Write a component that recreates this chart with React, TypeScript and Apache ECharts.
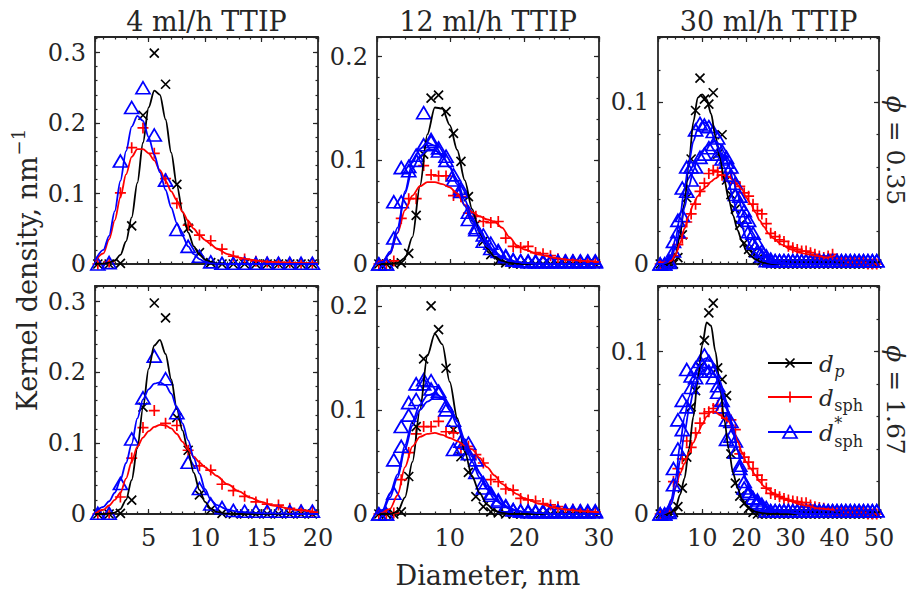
import React, { useEffect, useRef } from "react";
import * as echarts from "echarts";

// ---------- bin centres (histogram markers) ----------
const BINS_20 = [0.5, 1.5, 2.5, 3.5, 4.5, 5.5, 6.5, 7.5, 8.5, 9.5, 10.5, 11.5, 12.5, 13.5, 14.5, 15.5, 16.5, 17.5, 18.5, 19.5];
const BINS_30 = [0.5, 1.5, 2.5, 3.5, 4.5, 5.5, 6.5, 7.5, 8.5, 9.5, 10.5, 11.5, 12.5, 13.5, 14.5, 15.5, 16.5, 17.5, 18.5, 19.5,
  20.5, 21.5, 22.5, 23.5, 24.5, 25.5, 26.5, 27.5, 28.5, 29.5];
const BINS_50 = [0.5, 1.5, 2.5, 3.5, 4.5, 5.5, 6.5, 7.5, 8.5, 9.5, 10.5, 11.5, 12.5, 13.5, 14.5, 15.5, 16.5, 17.5, 18.5, 19.5,
  20.5, 21.5, 22.5, 23.5, 24.5, 25.5, 26.5, 27.5, 28.5, 29.5, 30.5, 31.5, 32.5, 33.5, 34.5, 35.5, 36.5, 37.5, 38.5, 39.5,
  40.5, 41.5, 42.5, 43.5, 44.5, 45.5, 46.5, 47.5, 48.5, 49.5];

// ---------- x positions of the kernel-density curves ----------
const CURVE_X_20 = [0.25, 1, 1.5, 2, 2.5, 3, 3.5, 4, 4.5, 5, 5.5, 6, 6.5, 7, 7.5, 8, 8.5, 9, 9.5, 10, 10.5, 11, 12, 13, 14, 15, 16, 18, 20];
const CURVE_X_30 = [0.25, 1, 2, 3, 4, 5, 6, 7, 8, 9, 10, 11, 12, 13, 14, 15, 16, 17, 18, 19, 20, 22, 24, 26, 28, 30];
const CURVE_X_50 = [0, 1, 2, 3, 4, 5, 6, 7, 8, 9, 10, 11, 12, 13, 14, 15, 16, 17, 18, 19, 20, 21, 22, 23, 24, 25, 26, 28, 30, 32, 34, 36, 38, 40];

// ---------- texts ----------
const COLUMN_TITLES = ["4 ml/h TTIP", "12 ml/h TTIP", "30 ml/h TTIP"];
const ROW_PHI = ["0.35", "1.67"];
const X_LABEL = "Diameter, nm";
const Y_LABEL = "Kernel density, nm";
const Y_LABEL_SUP = "\u22121";

// ---------- panel 1 : 4 ml/h, phi 0.35 ----------
const P1_DP_PTS = [0, 0, 0.001, 0.054, 0.211, 0.299, 0.255, 0.113, 0.051, 0.016, 0.002, 0, 0, 0, 0, 0, 0, 0, 0, 0];
const P1_SPH_PTS = [0, 0.003, 0.101, 0.165, 0.193, 0.157, 0.121, 0.086, 0.055, 0.041, 0.033, 0.021, 0.011, 0.007, 0.004, 0.003, 0.002, 0.002, 0.001, 0.001];
const P1_STAR_PTS = [0, 0.002, 0.146, 0.222, 0.25, 0.183, 0.119, 0.049, 0.025, 0.011, 0.003, 0.001, 0.001, 0.001, 0.001, 0.001, 0.001, 0.001, 0.001, 0.001];
const P1_DP_CURVE = [0, 0.0005, 0.002, 0.005, 0.013, 0.032, 0.066, 0.115, 0.172, 0.222, 0.246, 0.24, 0.205, 0.158, 0.112, 0.074, 0.045, 0.025, 0.013, 0.006, 0.003, 0.001, 0, 0, 0, 0, 0, 0, 0];
const P1_SPH_CURVE = [0.004, 0.015, 0.035, 0.062, 0.095, 0.127, 0.152, 0.163, 0.163, 0.157, 0.147, 0.133, 0.118, 0.103, 0.09, 0.074, 0.061, 0.05, 0.041, 0.034, 0.028, 0.022, 0.014, 0.009, 0.006, 0.004, 0.003, 0.0015, 0.001];
const P1_STAR_CURVE = [0.005, 0.02, 0.04, 0.075, 0.118, 0.16, 0.195, 0.21, 0.203, 0.18, 0.155, 0.13, 0.105, 0.08, 0.058, 0.04, 0.025, 0.014, 0.007, 0.003, 0.001, 0.0005, 0, 0, 0, 0, 0, 0, 0];

// ---------- panel 2 : 12 ml/h, phi 0.35 ----------
const P2_DP_PTS = [0, 0, 0, 0.001, 0.0103, 0.047, 0.106, 0.16, 0.163, 0.147, 0.126, 0.099, 0.065, 0.038, 0.022, 0.009, 0.003, 0.001, 0, 0,
  0, 0, 0, 0, 0, 0, 0, 0, 0, 0];
const P2_SPH_PTS = [0, 0, 0.003, 0.044, 0.063, 0.063, 0.095, 0.086, 0.085, 0.085, 0.066, 0.065, 0.049, 0.046, 0.041, 0.04, 0.041, 0.025, 0.017, 0.016,
  0.017, 0.011, 0.01, 0.008, 0.005, 0.004, 0.004, 0.003, 0.002, 0.002];
const P2_STAR_PTS_A = [0, 0, 0.06, 0.093, 0.094, 0.1, 0.146, 0.12, 0.109, 0.104, 0.081, 0.073, 0.043, 0.033, 0.022, 0.015, 0.013, 0.008, 0.004, 0.003,
  0.003, 0.003, 0.003, 0.003, 0.003, 0.003, 0.003, 0.003, 0.003, 0.003];
const P2_STAR_PTS_B = [0, 0, 0.025, 0.06, 0.09, 0.105, 0.115, 0.118, 0.112, 0.1, 0.086, 0.07, 0.05, 0.035, 0.028, 0.02, 0.012, 0.007, 0.004, 0.003,
  0.002, 0.002, 0.002, 0.002, 0.002, 0.002, 0.002, 0.002, 0.002, 0.002];
const P2_DP_CURVE = [0, 0, 0, 0.001, 0.006, 0.026, 0.075, 0.125, 0.151, 0.15, 0.134, 0.11, 0.081, 0.053, 0.03, 0.015, 0.007, 0.003, 0.001, 0.0005, 0, 0, 0, 0, 0, 0];
const P2_SPH_CURVE = [0.001, 0.003, 0.01, 0.03, 0.052, 0.066, 0.075, 0.079, 0.079, 0.077, 0.074, 0.068, 0.057, 0.05, 0.046, 0.043, 0.041, 0.035, 0.026, 0.018, 0.014, 0.009, 0.006, 0.004, 0.003, 0.002];
const P2_STAR_CURVE_A = [0, 0.002, 0.01, 0.03, 0.07, 0.098, 0.111, 0.117, 0.114, 0.105, 0.093, 0.077, 0.056, 0.039, 0.026, 0.017, 0.011, 0.006, 0.003, 0.002, 0.001, 0, 0, 0, 0, 0];
const P2_STAR_CURVE_B = [0, 0.002, 0.012, 0.035, 0.068, 0.092, 0.104, 0.11, 0.11, 0.104, 0.094, 0.08, 0.062, 0.045, 0.031, 0.02, 0.012, 0.007, 0.004, 0.002, 0.001, 0.0005, 0, 0, 0, 0];

// ---------- panel 3 : 30 ml/h, phi 0.35 ----------
const P3_DP_PTS = [0, 0, 0, 0, 0.004, 0.018, 0.041, 0.065, 0.095, 0.115, 0.102, 0.099, 0.106, 0.068, 0.08, 0.052, 0.043, 0.034, 0.024, 0.013,
  0.009, 0.007, 0.003, 0.002, 0.001, 0, 0, 0, 0, 0, 0, 0, 0, 0, 0, 0, 0, 0, 0, 0, 0, 0, 0, 0, 0, 0, 0, 0, 0, 0];
const P3_SPH_PTS = [0, 0, 0.001, 0.005, 0.012, 0.016, 0.026, 0.031, 0.037, 0.045, 0.05, 0.056, 0.058, 0.057, 0.055, 0.054, 0.056, 0.05, 0.048, 0.044,
  0.042, 0.037, 0.033, 0.031, 0.025, 0.019, 0.017, 0.015, 0.014, 0.011, 0.01, 0.009, 0.008, 0.008, 0.007, 0.006, 0.005, 0.004, 0.005, 0.006,
  0.003, 0.002, 0.002, 0.001, 0.001, 0.001, 0.001, 0, 0, 0];
const P3_STAR_PTS_A = [0, 0, 0.002, 0.014, 0.027, 0.047, 0.06, 0.06, 0.083, 0.087, 0.086, 0.085, 0.082, 0.068, 0.065, 0.063, 0.055, 0.043, 0.037, 0.029,
  0.02, 0.013, 0.008, 0.005, 0.002, 0.002, 0.002, 0.002, 0.002, 0.002, 0.002, 0.002, 0.002, 0.002, 0.002, 0.002, 0.002, 0.002, 0.002, 0.002,
  0.002, 0.002, 0.002, 0.002, 0.002, 0.002, 0.002, 0.002, 0.002, 0.002];
const P3_STAR_PTS_B = [0, 0, 0.001, 0.008, 0.02, 0.03, 0.045, 0.052, 0.06, 0.066, 0.068, 0.072, 0.074, 0.078, 0.07, 0.066, 0.06, 0.05, 0.042, 0.033,
  0.027, 0.019, 0.013, 0.008, 0.005, 0.003, 0.002, 0.002, 0.002, 0.002, 0.002, 0.002, 0.002, 0.002, 0.002, 0.002, 0.002, 0.002, 0.002, 0.002,
  0.002, 0.002, 0.002, 0.002, 0.002, 0.002, 0.002, 0.002, 0.002, 0.002];
const P3_DP_CURVE = [0, 0, 0, 0.001, 0.006, 0.018, 0.038, 0.063, 0.088, 0.103, 0.105, 0.102, 0.093, 0.079, 0.066, 0.052, 0.04, 0.03, 0.021, 0.014,
  0.008, 0.005, 0.003, 0.0015, 0.0007, 0.0003, 0, 0, 0, 0, 0, 0, 0, 0];
const P3_SPH_CURVE = [0.001, 0.001, 0.001, 0.002, 0.006, 0.013, 0.022, 0.03, 0.037, 0.042, 0.046, 0.048, 0.051, 0.053, 0.055, 0.055, 0.054, 0.052, 0.049, 0.046,
  0.041, 0.037, 0.032, 0.027, 0.023, 0.019, 0.016, 0.012, 0.009, 0.007, 0.006, 0.005, 0.004, 0.005];
const P3_STAR_CURVE_A = [0, 0, 0.001, 0.006, 0.016, 0.03, 0.047, 0.063, 0.076, 0.084, 0.088, 0.087, 0.082, 0.076, 0.069, 0.06, 0.05, 0.04, 0.031, 0.023,
  0.016, 0.011, 0.007, 0.004, 0.002, 0.001, 0.0005, 0, 0, 0, 0, 0, 0, 0];
const P3_STAR_CURVE_B = [0, 0, 0.001, 0.004, 0.011, 0.022, 0.035, 0.048, 0.058, 0.065, 0.07, 0.073, 0.075, 0.076, 0.074, 0.069, 0.061, 0.052, 0.043, 0.034,
  0.026, 0.019, 0.013, 0.009, 0.006, 0.004, 0.002, 0.001, 0, 0, 0, 0, 0, 0];

// ---------- panel 4 : 4 ml/h, phi 1.67 ----------
const P4_DP_PTS = [0, 0, 0.001, 0.0196, 0.151, 0.298, 0.277, 0.136, 0.09, 0.027, 0.006, 0.001, 0, 0, 0, 0, 0, 0, 0, 0];
const P4_SPH_PTS = [0, 0.001, 0.024, 0.079, 0.122, 0.146, 0.128, 0.125, 0.09, 0.068, 0.062, 0.042, 0.033, 0.025, 0.017, 0.014, 0.0126, 0.008, 0.0056, 0.003];
const P4_STAR_PTS = [0.001, 0.001, 0.043, 0.106, 0.164, 0.223, 0.191, 0.143, 0.073, 0.036, 0.014, 0.009, 0.005, 0.004, 0.004, 0.004, 0.004, 0.004, 0.004, 0.004];
const P4_DP_CURVE = [0, 0, 0.0005, 0.002, 0.007, 0.02, 0.048, 0.093, 0.15, 0.205, 0.238, 0.246, 0.226, 0.19, 0.148, 0.118, 0.088, 0.058, 0.034, 0.017, 0.008, 0.003, 0.0005, 0, 0, 0, 0, 0, 0];
const P4_SPH_CURVE = [0.002, 0.006, 0.012, 0.02, 0.03, 0.05, 0.074, 0.095, 0.108, 0.117, 0.123, 0.126, 0.125, 0.121, 0.113, 0.102, 0.091, 0.081, 0.073, 0.066, 0.06, 0.054, 0.042, 0.032, 0.023, 0.017, 0.012, 0.006, 0.002];
const P4_STAR_CURVE = [0.003, 0.01, 0.018, 0.03, 0.048, 0.072, 0.099, 0.135, 0.162, 0.176, 0.184, 0.186, 0.182, 0.17, 0.15, 0.128, 0.104, 0.079, 0.057, 0.035, 0.02, 0.013, 0.006, 0.003, 0.002, 0.001, 0.001, 0, 0];

// ---------- panel 5 : 12 ml/h, phi 1.67 ----------
const P5_DP_PTS = [0, 0, 0, 0.002, 0.036, 0.084, 0.149, 0.2, 0.177, 0.14, 0.081, 0.055, 0.04, 0.0167, 0.007, 0.002, 0.001, 0, 0, 0,
  0, 0, 0, 0, 0, 0, 0, 0, 0, 0];
const P5_SPH_PTS = [0, 0, 0.001, 0.033, 0.059, 0.077, 0.084, 0.084, 0.089, 0.079, 0.078, 0.063, 0.065, 0.057, 0.049, 0.033, 0.031, 0.024, 0.023, 0.015,
  0.0135, 0.0125, 0.01, 0.0087, 0.007, 0.0045, 0.0045, 0.004, 0.003, 0.002];
const P5_STAR_PTS_A = [0, 0, 0.052, 0.084, 0.107, 0.125, 0.129, 0.128, 0.118, 0.104, 0.062, 0.063, 0.068, 0.052, 0.025, 0.018, 0.0135, 0.007, 0.004, 0.003,
  0.003, 0.003, 0.003, 0.003, 0.003, 0.003, 0.003, 0.003, 0.003, 0.003];
const P5_STAR_PTS_B = [0, 0, 0.02, 0.065, 0.095, 0.11, 0.125, 0.12, 0.116, 0.1, 0.09, 0.07, 0.058, 0.04, 0.03, 0.02, 0.012, 0.008, 0.004, 0.003,
  0.002, 0.002, 0.002, 0.002, 0.002, 0.002, 0.002, 0.002, 0.002, 0.002];
const P5_DP_CURVE = [0, 0, 0, 0.002, 0.016, 0.05, 0.1, 0.152, 0.173, 0.163, 0.127, 0.092, 0.06, 0.036, 0.02, 0.009, 0.003, 0.001, 0, 0, 0, 0, 0, 0, 0, 0];
const P5_SPH_CURVE = [0.001, 0.002, 0.005, 0.018, 0.045, 0.065, 0.074, 0.077, 0.078, 0.076, 0.073, 0.07, 0.066, 0.062, 0.054, 0.045, 0.037, 0.029, 0.024, 0.019, 0.015, 0.01, 0.006, 0.004, 0.0025, 0.0016];
const P5_STAR_CURVE_A = [0, 0.004, 0.02, 0.038, 0.066, 0.089, 0.105, 0.114, 0.116, 0.112, 0.1, 0.085, 0.067, 0.05, 0.035, 0.024, 0.014, 0.009, 0.005, 0.003, 0.002, 0.001, 0, 0, 0, 0];
const P5_STAR_CURVE_B = [0, 0.003, 0.016, 0.035, 0.062, 0.085, 0.1, 0.108, 0.112, 0.111, 0.103, 0.089, 0.072, 0.055, 0.039, 0.027, 0.017, 0.01, 0.006, 0.003, 0.002, 0.001, 0, 0, 0, 0];

// ---------- panel 6 : 30 ml/h, phi 1.67 ----------
const P6_DP_PTS = [0, 0, 0, 0.001, 0.0045, 0.016, 0.035, 0.066, 0.076, 0.091, 0.107, 0.124, 0.13, 0.09, 0.083, 0.073, 0.037, 0.019, 0.011, 0.0066,
  0.0035, 0.001, 0, 0, 0, 0, 0, 0, 0, 0, 0, 0, 0, 0, 0, 0, 0, 0, 0, 0, 0, 0, 0, 0, 0, 0, 0, 0, 0, 0];
const P6_SPH_PTS = [0, 0, 0.001, 0.02, 0.028, 0.034, 0.045, 0.041, 0.05, 0.056, 0.062, 0.063, 0.065, 0.067, 0.062, 0.059, 0.058, 0.052, 0.037, 0.035,
  0.032, 0.028, 0.024, 0.021, 0.016, 0.0127, 0.012, 0.0107, 0.0095, 0.0086, 0.008, 0.0076, 0.007, 0.007, 0.0055, 0.0045, 0.004, 0.0035, 0.0025, 0.0025,
  0.002, 0.002, 0.001, 0.001, 0.001, 0.001, 0.001, 0, 0, 0];
const P6_STAR_PTS_A = [0, 0, 0.002, 0.028, 0.058, 0.07, 0.089, 0.085, 0.09, 0.094, 0.098, 0.094, 0.088, 0.079, 0.07, 0.046, 0.057, 0.045, 0.03, 0.016,
  0.0127, 0.0097, 0.0086, 0.006, 0.004, 0.002, 0.002, 0.002, 0.002, 0.002, 0.002, 0.002, 0.002, 0.002, 0.002, 0.002, 0.002, 0.002, 0.002, 0.002,
  0.002, 0.002, 0.002, 0.002, 0.002, 0.002, 0.002, 0.002, 0.002, 0.002];
const P6_STAR_PTS_B = [0, 0, 0.001, 0.018, 0.04, 0.052, 0.066, 0.078, 0.084, 0.088, 0.09, 0.088, 0.084, 0.075, 0.066, 0.058, 0.048, 0.038, 0.028, 0.02,
  0.014, 0.01, 0.007, 0.005, 0.002, 0.002, 0.002, 0.002, 0.002, 0.002, 0.002, 0.002, 0.002, 0.002, 0.002, 0.002, 0.002, 0.002, 0.002, 0.002,
  0.002, 0.002, 0.002, 0.002, 0.002, 0.002, 0.002, 0.002, 0.002, 0.002];
const P6_DP_CURVE = [0, 0, 0, 0.001, 0.004, 0.012, 0.022, 0.04, 0.06, 0.083, 0.104, 0.118, 0.116, 0.1, 0.079, 0.058, 0.04, 0.025, 0.016, 0.009,
  0.0055, 0.003, 0.0015, 0.0008, 0.0004, 0, 0, 0, 0, 0, 0, 0, 0, 0];
const P6_SPH_CURVE = [0, 0, 0.001, 0.008, 0.017, 0.025, 0.031, 0.038, 0.044, 0.05, 0.055, 0.06, 0.063, 0.063, 0.061, 0.059, 0.057, 0.052, 0.045, 0.038,
  0.032, 0.028, 0.024, 0.02, 0.017, 0.015, 0.013, 0.01, 0.008, 0.006, 0.005, 0.0035, 0.003, 0.0025];
const P6_STAR_CURVE_A = [0, 0, 0.002, 0.009, 0.022, 0.043, 0.06, 0.072, 0.082, 0.09, 0.095, 0.096, 0.094, 0.089, 0.082, 0.073, 0.063, 0.053, 0.04, 0.028,
  0.02, 0.014, 0.01, 0.007, 0.005, 0.003, 0.002, 0.001, 0.001, 0.0005, 0, 0, 0, 0];
const P6_STAR_CURVE_B = [0, 0, 0.001, 0.006, 0.016, 0.033, 0.05, 0.064, 0.075, 0.083, 0.088, 0.09, 0.089, 0.085, 0.078, 0.07, 0.061, 0.05, 0.039, 0.029,
  0.021, 0.015, 0.011, 0.008, 0.006, 0.004, 0.003, 0.002, 0.001, 0, 0, 0, 0, 0];

const PANELS = [
  { bins: BINS_20, cx: CURVE_X_20, dpPts: P1_DP_PTS, sphPts: P1_SPH_PTS, starPts: [P1_STAR_PTS], dpCurve: P1_DP_CURVE, sphCurve: P1_SPH_CURVE, starCurves: [P1_STAR_CURVE] },
  { bins: BINS_30, cx: CURVE_X_30, dpPts: P2_DP_PTS, sphPts: P2_SPH_PTS, starPts: [P2_STAR_PTS_A, P2_STAR_PTS_B], dpCurve: P2_DP_CURVE, sphCurve: P2_SPH_CURVE, starCurves: [P2_STAR_CURVE_A, P2_STAR_CURVE_B] },
  { bins: BINS_50, cx: CURVE_X_50, dpPts: P3_DP_PTS, sphPts: P3_SPH_PTS, starPts: [P3_STAR_PTS_A, P3_STAR_PTS_B], dpCurve: P3_DP_CURVE, sphCurve: P3_SPH_CURVE, starCurves: [P3_STAR_CURVE_A, P3_STAR_CURVE_B] },
  { bins: BINS_20, cx: CURVE_X_20, dpPts: P4_DP_PTS, sphPts: P4_SPH_PTS, starPts: [P4_STAR_PTS], dpCurve: P4_DP_CURVE, sphCurve: P4_SPH_CURVE, starCurves: [P4_STAR_CURVE] },
  { bins: BINS_30, cx: CURVE_X_30, dpPts: P5_DP_PTS, sphPts: P5_SPH_PTS, starPts: [P5_STAR_PTS_A, P5_STAR_PTS_B], dpCurve: P5_DP_CURVE, sphCurve: P5_SPH_CURVE, starCurves: [P5_STAR_CURVE_A, P5_STAR_CURVE_B] },
  { bins: BINS_50, cx: CURVE_X_50, dpPts: P6_DP_PTS, sphPts: P6_SPH_PTS, starPts: [P6_STAR_PTS_A, P6_STAR_PTS_B], dpCurve: P6_DP_CURVE, sphCurve: P6_SPH_CURVE, starCurves: [P6_STAR_CURVE_A, P6_STAR_CURVE_B] },
];

// ---------- layout & style ----------
const FONT = '"DejaVu Serif", "Liberation Serif", serif';
const FONT_NAME = '"DejaVu Serif"';
const INK = "#262626";
const C_DP = "#000000";
const C_SPH = "#ff0000";
const C_STAR = "#0000ff";
const TICK_FS = 24;
const LABEL_FS = 27;
const LEG_FS = 23;
const SUB_FS = 16;

const GRID_BOX = [
  [95, 37, 223, 227], [377, 37, 222, 227], [658, 37, 221, 227],
  [95, 286, 223, 228], [377, 286, 222, 228], [658, 286, 221, 228],
];
const X_SPEC: any[] = [
  { min: 0.25, max: 20, major: { splitNumber: 4 }, minor: { splitNumber: 20 }, step: 5 },
  { min: 0.25, max: 30, major: { splitNumber: 3 }, minor: { splitNumber: 15 }, step: 10 },
  { min: 0, max: 50, major: { interval: 10 }, minor: { interval: 2 }, step: 10 },
];
const Y_MAX = [0.322, 0.219, 0.1405];

const X_MARK = "path://M0,0L10,10M10,0L0,10";
const PLUS_MARK = "path://M5,0L5,10M0,5L10,5";

const zip = (xs: number[], ys: number[]) => ys.map((y, i) => [xs[i], y]);

function measure(text: string, size: number, italic = false) {
  const ctx = document.createElement("canvas").getContext("2d");
  if (!ctx) return text.length * size * 0.6;
  ctx.font = `${italic ? "italic " : ""}${size}px ${FONT_NAME}`;
  return ctx.measureText(text).width;
}

function buildOption() {
  const xAxis: any[] = [];
  const yAxis: any[] = [];
  const series: any[] = [];
  const lineStyle = { color: INK, width: 1.8 };
  const tickStyle = { color: INK, width: 1.2 };

  PANELS.forEach((pn, p) => {
    const col = p % 3;
    const row = Math.floor(p / 3);
    const xs = X_SPEC[col];
    const ymax = Y_MAX[col];

    const mkX = (pos: string, major: boolean, showLabel: boolean) => ({
      gridIndex: p,
      type: "value",
      position: pos,
      min: xs.min,
      max: xs.max,
      ...(major ? xs.major : xs.minor),
      splitLine: { show: false },
      axisLine: { show: major, onZero: false, lineStyle },
      axisTick: { show: true, inside: true, length: major ? 5 : 2.5, lineStyle: tickStyle },
      axisLabel: showLabel
        ? {
            show: true,
            margin: 12,
            fontSize: TICK_FS,
            fontFamily: FONT,
            color: INK,
            formatter: (v: number) => {
              const k = Math.round(v / xs.step);
              return v > 0.01 && Math.abs(v - k * xs.step) < 1e-6 ? String(k * xs.step) : "";
            },
          }
        : { show: false },
    });
    xAxis.push(mkX("bottom", true, row === 1), mkX("bottom", false, false), mkX("top", true, false), mkX("top", false, false));

    const mkY = (pos: string, major: boolean, showLabel: boolean) => ({
      gridIndex: p,
      type: "value",
      position: pos,
      min: 0,
      max: ymax,
      interval: major ? 0.1 : 0.02,
      splitLine: { show: false },
      axisLine: { show: major, onZero: false, lineStyle },
      axisTick: { show: true, inside: true, length: major ? 5 : 2.5, lineStyle: tickStyle },
      axisLabel: showLabel
        ? {
            show: true,
            margin: 9,
            fontSize: TICK_FS,
            fontFamily: FONT,
            color: INK,
            formatter: (v: number) => {
              const r = Math.round(v * 10) / 10;
              if (Math.abs(v - r) > 1e-9) return "";
              return r === 0 ? "0" : r.toFixed(1);
            },
          }
        : { show: false },
    });
    yAxis.push(mkY("left", true, true), mkY("left", false, false), mkY("right", true, false), mkY("right", false, false));

    const ax = { xAxisIndex: 4 * p, yAxisIndex: 4 * p, silent: true, clip: false };
    const pts = (vals: number[], color: string, symbol: string, size: any) => ({
      type: "scatter",
      ...ax,
      data: zip(pn.bins, vals),
      symbol,
      symbolSize: size,
      itemStyle: { color: "none", borderColor: color, borderWidth: 1.7, opacity: 1 },
    });
    const crv = (vals: number[], color: string) => ({
      type: "line",
      ...ax,
      data: zip(pn.cx, vals),
      symbol: "none",
      showSymbol: false,
      smooth: 0.3,
      smoothMonotone: "x",
      lineStyle: { color, width: 1.8 },
    });
    series.push(pts(pn.dpPts, C_DP, X_MARK, 9));
    series.push(crv(pn.dpCurve, C_DP));
    series.push(pts(pn.sphPts, C_SPH, PLUS_MARK, 11));
    series.push(crv(pn.sphCurve, C_SPH));
    pn.starPts.forEach((s) => series.push(pts(s, C_STAR, "triangle", [14, 12])));
    pn.starCurves.forEach((s) => series.push(crv(s, C_STAR)));
  });

  // ---------- texts & legend ----------
  const graphic: any[] = [];
  const txt = (text: string, x: number, y: number, size: number, extra: any = {}) => ({
    type: "text",
    x,
    y,
    silent: true,
    style: {
      text,
      fontSize: size,
      fontFamily: FONT,
      fill: extra.fill || INK,
      fontStyle: extra.italic ? "italic" : "normal",
      align: extra.align || "center",
      textAlign: extra.align || "center",
      verticalAlign: "middle",
      textVerticalAlign: "middle",
      ...(extra.rich ? { rich: extra.rich } : {}),
    },
  });

  COLUMN_TITLES.forEach((t, c) => {
    const [l, , w] = GRID_BOX[c];
    graphic.push(txt(t, l + w / 2, 21, LABEL_FS));
  });
  graphic.push(txt(X_LABEL, 488, 575, LABEL_FS));

  // y label (rotated, with superscript)
  const mainW = measure(Y_LABEL, LABEL_FS);
  const supW = measure(Y_LABEL_SUP, 18);
  const totW = mainW + supW + 1;
  graphic.push({
    type: "group",
    x: 27,
    y: 270,
    rotation: Math.PI / 2,
    children: [
      txt(Y_LABEL, -totW / 2, 0, LABEL_FS, { align: "left" }),
      txt(Y_LABEL_SUP, -totW / 2 + mainW + 1, -9, 18, { align: "left" }),
    ],
  });

  // phi labels on the right
  ROW_PHI.forEach((v, r) => {
    const [, t, , h] = GRID_BOX[r * 3 + 2];
    graphic.push({
      type: "text",
      x: 895,
      y: t + h / 2,
      rotation: -Math.PI / 2,
      silent: true,
      style: {
        text: `{i|\u03D5} = ${v}`,
        fontSize: 25,
        fontFamily: FONT,
        fill: INK,
        align: "center",
        textAlign: "center",
        verticalAlign: "middle",
        textVerticalAlign: "middle",
        rich: { i: { fontStyle: "italic", fontSize: 25, fontFamily: FONT, fill: INK } },
      },
    });
  });

  // legend (inside bottom-right panel)
  const LX0 = 768, LX1 = 812, LMX = 790, LTX = 819;
  const LY = [363, 397, 432];
  const dW = measure("d", LEG_FS, true);
  const seg = (x1: number, y1: number, x2: number, y2: number, color: string, w = 1.7) => ({
    type: "line",
    silent: true,
    shape: { x1, y1, x2, y2 },
    style: { stroke: color, lineWidth: w },
  });
  // d_p
  graphic.push(seg(LX0, LY[0], LX1, LY[0], C_DP, 1.8));
  graphic.push(seg(LMX - 4.5, LY[0] - 4.5, LMX + 4.5, LY[0] + 4.5, C_DP));
  graphic.push(seg(LMX - 4.5, LY[0] + 4.5, LMX + 4.5, LY[0] - 4.5, C_DP));
  graphic.push(txt("d", LTX, LY[0] + 1, LEG_FS, { align: "left", italic: true }));
  graphic.push(txt("p", LTX + dW + 0.5, LY[0] + 8, SUB_FS, { align: "left", italic: true }));
  // d_sph
  graphic.push(seg(LX0, LY[1], LX1, LY[1], C_SPH, 1.8));
  graphic.push(seg(LMX - 5.5, LY[1], LMX + 5.5, LY[1], C_SPH));
  graphic.push(seg(LMX, LY[1] - 5.5, LMX, LY[1] + 5.5, C_SPH));
  graphic.push(txt("d", LTX, LY[1] + 1, LEG_FS, { align: "left", italic: true }));
  graphic.push(txt("sph", LTX + dW + 0.5, LY[1] + 8, SUB_FS, { align: "left" }));
  // d*_sph
  graphic.push(seg(LX0, LY[2], LX1, LY[2], C_STAR, 1.8));
  graphic.push({
    type: "polygon",
    silent: true,
    shape: { points: [[LMX, LY[2] - 6], [LMX - 7, LY[2] + 6], [LMX + 7, LY[2] + 6]] },
    style: { fill: "none", stroke: C_STAR, lineWidth: 1.7 },
  });
  graphic.push(txt("d", LTX, LY[2] + 1, LEG_FS, { align: "left", italic: true }));
  graphic.push(txt("*", LTX + dW + 0.5, LY[2] - 9, SUB_FS, { align: "left" }));
  graphic.push(txt("sph", LTX + dW + 0.5, LY[2] + 9, SUB_FS, { align: "left" }));

  return {
    animation: false,
    textStyle: { fontFamily: FONT },
    grid: GRID_BOX.map(([left, top, width, height]) => ({
      left, top, width, height, containLabel: false, outerBoundsMode: "none", show: false,
    })),
    xAxis,
    yAxis,
    series,
    graphic,
  };
}

export default function App() {
  const ref = useRef<HTMLDivElement>(null);
  useEffect(() => {
    document.body.style.margin = "0";
    const el = ref.current;
    if (!el) return;
    const chart = echarts.init(el, null, { renderer: "svg" });
    chart.setOption(buildOption() as any);
    return () => chart.dispose();
  }, []);
  return <div ref={ref} style={{ width: 912, height: 590, background: "#ffffff" }} />;
}
